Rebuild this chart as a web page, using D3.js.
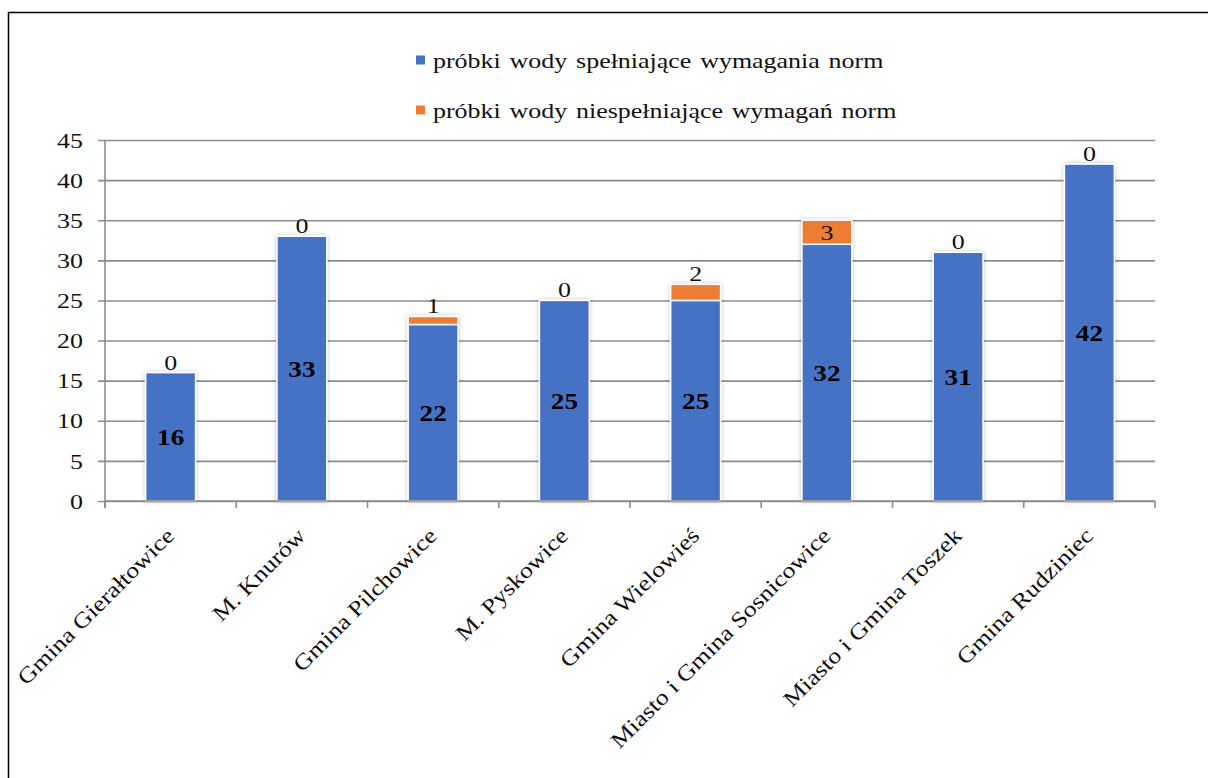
<!DOCTYPE html>
<html>
<head>
<meta charset="utf-8">
<script src="https://cdn.jsdelivr.net/npm/d3@7"></script>
<style>
  body { margin: 0; background: #fff; }
  svg text { font-family: "Liberation Serif", "Times New Roman", serif; fill: #111; }
</style>
</head>
<body>
<div id="chart-container"></div>
<script>
const categories = ["Gmina Gierałtowice", "M. Knurów", "Gmina Pilchowice", "M. Pyskowice",
  "Gmina Wielowieś", "Miasto i Gmina Sosnicowice", "Miasto i Gmina Toszek", "Gmina Rudziniec"];
const compliant = [16, 33, 22, 25, 25, 32, 31, 42];
const nonCompliant = [0, 0, 1, 0, 2, 3, 0, 0];
const seriesNames = ["próbki wody spełniające wymagania norm", "próbki wody niespełniające wymagań norm"];
const yTicks = [0, 5, 10, 15, 20, 25, 30, 35, 40, 45];

const width = 1208;
const height = 778;
const colors = ["#4472C4", "#ED7D31"];
const stretch = "scale(1.18,1)"; // the source picture is a little wider than tall

const svg = d3.select("#chart-container")
    .append("svg")
    .attr("width", width)
    .attr("height", height);

// frame
svg.append("rect")
    .attr("x", 8.5).attr("y", 12.5)
    .attr("width", 1215).attr("height", 780)
    .attr("fill", "none").attr("stroke", "#000").attr("stroke-width", 1.5);

const defs = svg.append("defs");
const shadow = defs.append("filter").attr("id", "shadow")
    .attr("x", "-20%").attr("y", "-5%").attr("width", "140%").attr("height", "110%");
shadow.append("feDropShadow").attr("dx", 0).attr("dy", 0).attr("stdDeviation", 2)
    .attr("flood-color", "#000").attr("flood-opacity", 0.25);

const xScale = d3.scaleBand()
    .domain(categories)
    .range([105, 1155])
    .paddingInner(0.62)
    .paddingOuter(0.31);

const yScale = d3.scaleLinear()
    .domain([0, 45])
    .range([501, 140]);

// gridlines + y tick marks
svg.append("g")
    .attr("transform", "translate(105,0)")
    .call(d3.axisLeft(yScale).tickValues(yTicks).tickSize(-1050).tickFormat(""))
    .call(g => g.select(".domain").remove())
    .call(g => g.selectAll(".tick line").attr("stroke", "#8c8c8c").attr("stroke-width", 1.6).attr("x1", -7));

// y tick labels
svg.selectAll(".y-label")
    .data(yTicks)
    .enter()
    .append("text")
    .attr("class", "y-label")
    .attr("transform", d => `translate(83,${yScale(d)}) ${stretch}`)
    .attr("dy", "0.35em")
    .attr("text-anchor", "end")
    .attr("font-size", 22)
    .text(d => d);

// y axis line
svg.append("line")
    .attr("x1", 105).attr("x2", 105)
    .attr("y1", yScale(45)).attr("y2", 508)
    .attr("stroke", "#8c8c8c").attr("stroke-width", 1.6);

// bars
const stackData = categories.map((c, i) => ({ name: c, a: compliant[i], b: nonCompliant[i] }));

const groups = svg.selectAll(".bar-group")
    .data(stackData)
    .enter()
    .append("g")
    .attr("class", "bar-group")
    .attr("filter", "url(#shadow)");

groups.append("rect")
    .attr("x", d => xScale(d.name))
    .attr("y", d => yScale(d.a))
    .attr("width", xScale.bandwidth())
    .attr("height", d => yScale(0) - yScale(d.a))
    .attr("fill", colors[0])
    .attr("stroke", "#fff")
    .attr("stroke-width", 1.5);

groups.filter(d => d.b > 0).append("rect")
    .attr("x", d => xScale(d.name))
    .attr("y", d => yScale(d.a + d.b))
    .attr("width", xScale.bandwidth())
    .attr("height", d => yScale(d.a) - yScale(d.a + d.b))
    .attr("fill", colors[1])
    .attr("stroke", "#fff")
    .attr("stroke-width", 1.5);

// x axis line + ticks
const xAxis = svg.append("g").attr("transform", "translate(0,501)");
xAxis.append("line").attr("x1", 105).attr("x2", 1155)
    .attr("stroke", "#8c8c8c").attr("stroke-width", 1.6);
xAxis.selectAll(".xt")
    .data(d3.range(categories.length + 1))
    .enter()
    .append("line")
    .attr("x1", i => 105 + i * xScale.step())
    .attr("x2", i => 105 + i * xScale.step())
    .attr("y1", 0).attr("y2", 7)
    .attr("stroke", "#8c8c8c").attr("stroke-width", 1.6);

// category labels
svg.selectAll(".x-label")
    .data(categories)
    .enter()
    .append("text")
    .attr("class", "x-label")
    .attr("transform", d => `translate(${xScale(d) + xScale.bandwidth() / 2 + 5},${537}) rotate(-45) ${stretch}`)
    .attr("text-anchor", "end")
    .attr("font-size", 22)
    .text(d => d);

const cx = d => xScale(d.name) + xScale.bandwidth() / 2;

// value labels (compliant, bold, centred)
svg.selectAll(".lab-a")
    .data(stackData)
    .enter()
    .append("text")
    .attr("transform", d => `translate(${cx(d)},${yScale(d.a / 2)}) ${stretch}`)
    .attr("dy", "0.35em")
    .attr("text-anchor", "middle")
    .attr("font-size", 23)
    .attr("font-weight", "bold")
    .style("fill", "#000")
    .text(d => d.a);

// value labels (non-compliant)
svg.selectAll(".lab-b")
    .data(stackData)
    .enter()
    .append("text")
    .attr("transform", d => {
        const y = d.b >= 3 ? yScale(d.a + d.b / 2) : yScale(d.a + d.b) - 3;
        return `translate(${cx(d)},${y}) ${stretch}`;
    })
    .attr("dy", d => d.b >= 3 ? "0.35em" : "0")
    .attr("text-anchor", "middle")
    .attr("font-size", 22)
    .text(d => d.b);

// legend
const legend = svg.selectAll(".legend")
    .data(seriesNames)
    .enter()
    .append("g")
    .attr("class", "legend")
    .attr("transform", (d, i) => `translate(416,${60 + i * 50})`);

legend.append("rect")
    .attr("x", 0).attr("y", -4.5)
    .attr("width", 9).attr("height", 9)
    .attr("fill", (d, i) => colors[i]);

legend.append("text")
    .attr("transform", `translate(17,0) ${stretch}`)
    .attr("dy", "0.35em")
    .attr("font-size", 22)
    .attr("word-spacing", 2)
    .text(d => d);
</script>
</body>
</html>
